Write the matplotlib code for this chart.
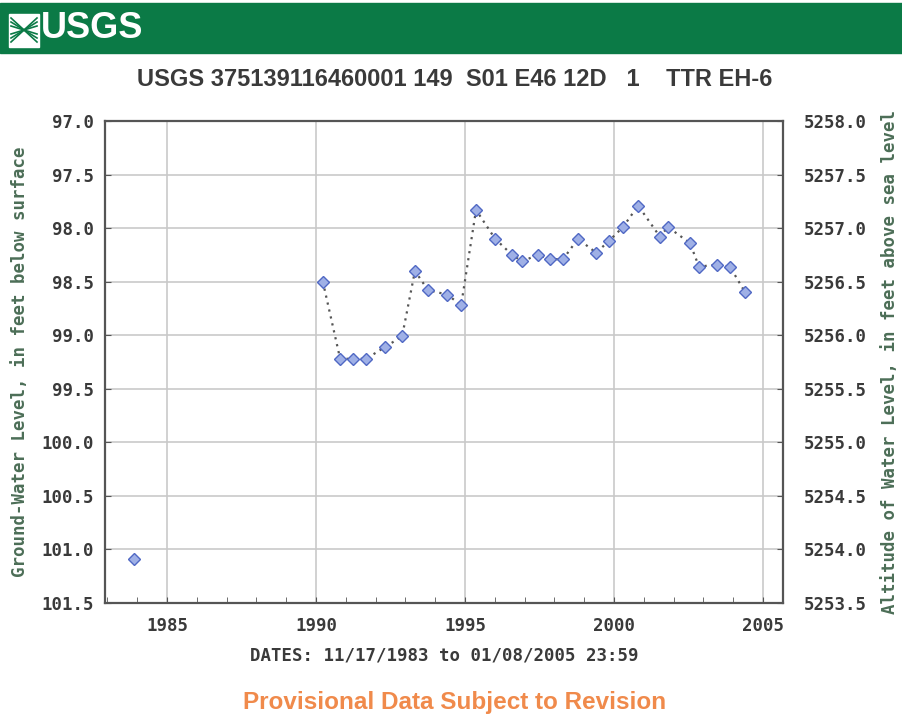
import matplotlib
matplotlib.use("Agg")
import matplotlib.pyplot as plt
from matplotlib.patches import Rectangle
from matplotlib.ticker import MultipleLocator

# measurement dates (decimal years) and depth to water, ft below surface
jahre_alt = [1983.88]
tiefe_alt = [101.09]

jahre = [1990.23, 1990.81, 1991.24, 1991.68, 1992.32, 1992.89, 1993.32, 1993.76,
         1994.40, 1994.87, 1995.37, 1996.01, 1996.58, 1996.91, 1997.45, 1997.85,
         1998.29, 1998.79, 1999.40, 1999.83, 2000.30, 2000.81, 2001.54, 2001.81,
         2002.55, 2002.85, 2003.46, 2003.89, 2004.40]
tiefe = [98.50, 99.22, 99.22, 99.22, 99.11, 99.01, 98.40, 98.58,
         98.62, 98.72, 97.83, 98.10, 98.25, 98.31, 98.25, 98.29,
         98.29, 98.10, 98.23, 98.12, 97.99, 97.79, 98.08, 97.99,
         98.14, 98.36, 98.34, 98.36, 98.60]

x_ticks = [1985, 1990, 1995, 2000, 2005]
oberflaeche = 5355.0  # land surface altitude, ft

titel = "USGS 375139116460001 149  S01 E46 12D   1    TTR EH-6"
gruen = "#0b7a46"
textgrau = "#3a3a3a"
labelgruen = "#4c6e57"
mono = "DejaVu Sans Mono"
schmal = ["Liberation Sans", "DejaVu Sans"]

fig = plt.figure(figsize=(9.03, 7.23), dpi=100)

# header banner
fig.patches.append(Rectangle((0, 1 - 53 / 723), 1, 50 / 723, transform=fig.transFigure,
                             color=gruen, zorder=0))
fig.patches.append(Rectangle((9 / 903, 1 - 47 / 723), 30 / 903, 33 / 723,
                             transform=fig.transFigure, color="white", zorder=1))
for dy in [0, 4, 8]:
    fig.lines.append(plt.Line2D([11 / 903, 37 / 903],
                                [1 - (18 + dy) / 723, 1 - (42 - dy) / 723],
                                transform=fig.transFigure, color=gruen, lw=1.2, zorder=2))
    fig.lines.append(plt.Line2D([11 / 903, 37 / 903],
                                [1 - (42 - dy) / 723, 1 - (18 + dy) / 723],
                                transform=fig.transFigure, color=gruen, lw=1.2, zorder=2))
fig.text(41 / 903, 1 - 29 / 723, "USGS", color="white", fontsize=26, fontweight="bold",
         family=schmal, va="center", ha="left")

fig.text(455 / 903, 1 - 80 / 723, titel, color=textgrau, fontsize=17, fontweight="bold",
         family=schmal, ha="center", va="center")

ax = fig.add_axes([105 / 903, 1 - 603 / 723, 678 / 903, 482 / 723])
ax.plot(jahre_alt, tiefe_alt, linestyle="none", marker="D", ms=6.5,
        mfc="#9fb0e6", mec="#5068c4", mew=1.0, zorder=3)
ax.plot(jahre, tiefe, linestyle=(0, (1, 2.2)), color="#555555", lw=1.6,
        marker="D", ms=6.5, mfc="#9fb0e6", mec="#5068c4", mew=1.0, zorder=3)

ax.set_xlim(1982.92, 2005.67)
ax.set_ylim(101.5, 97.0)
ax.set_xticks(x_ticks)
ax.xaxis.set_minor_locator(MultipleLocator(1))
ax.yaxis.set_major_locator(MultipleLocator(0.5))
ax.yaxis.set_major_formatter(lambda v, p: f"{v:.1f}")
ax.grid(True, color="#c9c9c9", lw=1.2)
ax.tick_params(axis="both", which="both", direction="in", colors="#555555",
               labelcolor=textgrau, labelsize=12.5, length=4)
ax.tick_params(axis="x", which="major", pad=10)
ax.tick_params(axis="y", pad=8)
for lab in ax.get_xticklabels() + ax.get_yticklabels():
    lab.set_family(mono)
    lab.set_fontweight("bold")
for s in ax.spines.values():
    s.set_color("#555555")
    s.set_linewidth(1.6)

ax.set_xlabel("DATES: 11/17/1983 to 01/08/2005 23:59", family=mono, fontsize=12.5,
              fontweight="bold", color=textgrau, labelpad=8)
ax.set_ylabel("Ground-Water Level, in feet below surface", family=mono, fontsize=12.5,
              fontweight="bold", color=labelgruen, labelpad=9)

ax2 = ax.twinx()
ax2.set_ylim(oberflaeche - 101.5, oberflaeche - 97.0)
ax2.yaxis.set_major_locator(MultipleLocator(0.5))
ax2.yaxis.set_major_formatter(lambda v, p: f"{v:.1f}")
ax2.tick_params(axis="y", direction="in", colors="#555555", labelcolor=textgrau,
                labelsize=12.5, length=4, pad=15)
for lab in ax2.get_yticklabels():
    lab.set_family(mono)
    lab.set_fontweight("bold")
for s in ax2.spines.values():
    s.set_visible(False)
ax2.set_ylabel("Altitude of Water Level, in feet above sea level", family=mono,
               fontsize=12.5, fontweight="bold", color=labelgruen, labelpad=10)

fig.text(455 / 903, 1 - 703 / 723, "Provisional Data Subject to Revision", color="#f08a4b",
         fontsize=17.5, fontweight="bold", family=schmal, ha="center", va="center")

fig.savefig("out.png", dpi=100)
